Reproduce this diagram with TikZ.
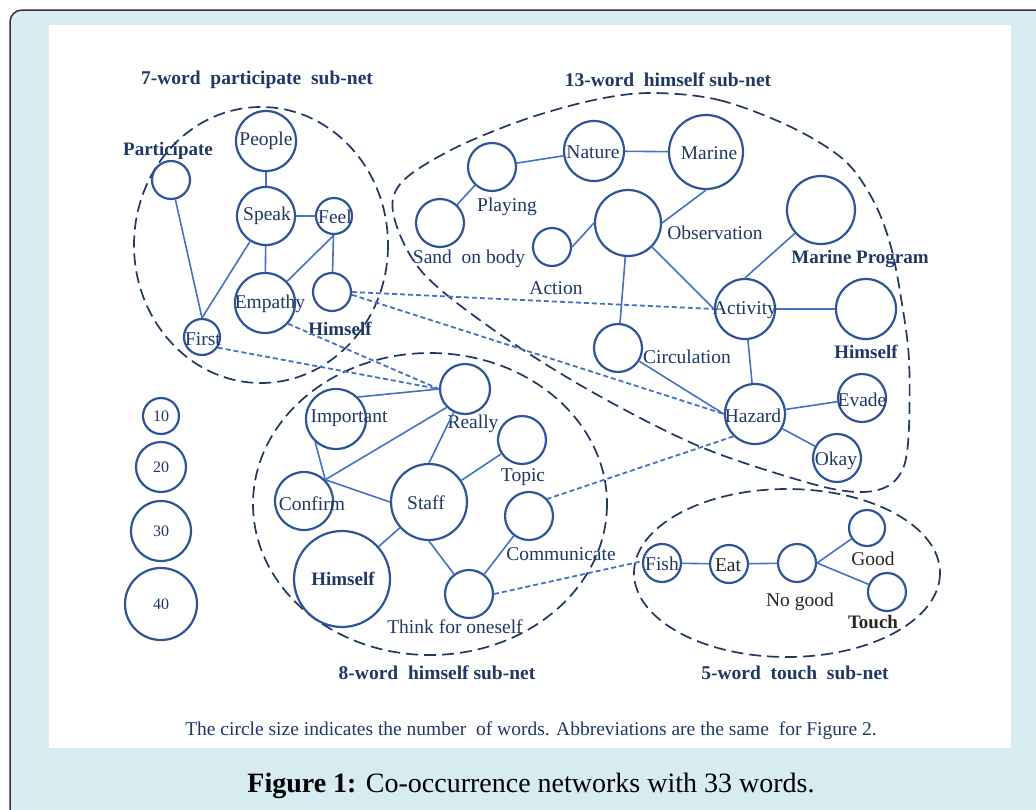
\documentclass[tikz,border=0pt]{standalone}
\usepackage{fontspec}
\setmainfont{Liberation Serif}
\definecolor{navy}{RGB}{31,56,100}
\definecolor{circc}{RGB}{47,85,151}
\definecolor{edgec}{RGB}{68,114,196}
\definecolor{bgblue}{RGB}{214,236,241}
\tikzset{
  wc/.style={circle, draw=circc, line width=2.2pt, inner sep=0pt, minimum size=#1pt},
  lab/.style={text=navy, font=\fontsize{19.5}{21}\selectfont, inner sep=0pt},
  blab/.style={text=navy, font=\fontsize{19}{21}\selectfont\bfseries, inner sep=0pt},
  klab/.style={text=black!85, font=\fontsize{19.5}{21}\selectfont, inner sep=0pt},
  ttl/.style={text=navy, font=\fontsize{19.5}{21}\selectfont\bfseries, inner sep=0pt},
  leg/.style={text=navy, font=\fontsize{16}{18}\selectfont, inner sep=0pt},
  link/.style={draw=edgec, line width=1.6pt},
  dlink/.style={draw=edgec, line width=1.8pt, dash pattern=on 5pt off 3pt},
  grp/.style={draw=navy, line width=1.7pt, dash pattern=on 12pt off 6pt},
}
\begin{document}
\begin{tikzpicture}[x=1pt,y=-1pt]
\useasboundingbox (0,0) rectangle (1036,809);
\clip (0,0) rectangle (1036,809);
\fill[white] (0,0) rectangle (1036,809);
\draw[fill=bgblue, draw=black!80, line width=1.5pt, rounded corners=12pt] (10,10) rectangle (1060,840);
\fill[white] (49,25) rectangle (1011,748);

% ---------- group outlines ----------
\draw[grp] (261,245) ellipse [x radius=127, y radius=138];
\draw[grp] (430,504) ellipse [x radius=177, y radius=151];
\draw[grp] (787,573) ellipse [x radius=153, y radius=84];
\draw[grp] plot[smooth cycle, tension=0.55] coordinates {
  (651,93) (719,100) (791,127) (844,160) (873,200) (891,247) (903,310)
  (909,360) (909,427) (904,466) (888,486) (858,492) (809,483) (701,447)
  (594,393) (498,333) (423,273) (394,217) (401,183) (451,150) (523,120) (594,100)};

% ---------- titles ----------
\node[ttl] (t1) at (257,80) {7-word\ \ participate\ \ sub-net};
\node[ttl] (t2) at (668,80) {13-word\ \ himself sub-net};
\node[ttl] (t3) at (437,673) {8-word\ \ himself sub-net};
\node[ttl] (t4) at (795,673) {5-word\ \ touch\ \ sub-net};

% ---------- 7-word sub-net ----------
\node[wc=38] (part) at (171,180) {};
\node[wc=60] (people) at (266,141) {};
\node[wc=58] (speak) at (266,216) {};
\node[wc=36] (feel) at (334,216) {};
\node[wc=60] (emp) at (265,303) {};
\node[wc=38] (himA) at (332,292) {};
\node[wc=36] (first) at (202,337) {};
\node[blab] (partL) at (168,151) {Participate};
\node[lab] (peopleL) at (266,141) {People};
\node[lab] (speakL) at (267,216) {Speak};
\node[lab] (feelL) at (335,217) {Feel};
\node[lab] (empL) at (270,304) {Empathy};
\node[blab] (himAL) at (340,329) {Himself};
\node[lab] (firstL) at (203,339) {First};

% ---------- 13-word sub-net ----------
\node[wc=48] (play) at (492,167) {};
\node[wc=60] (nature) at (594,151) {};
\node[wc=74] (marine) at (706,152) {};
\node[wc=48] (sand) at (440,223) {};
\node[wc=38] (action) at (552,247) {};
\node[wc=66] (obs) at (628,223) {};
\node[wc=68] (mprog) at (821,210) {};
\node[wc=60] (act) at (745,309) {};
\node[wc=60] (himB) at (866,309) {};
\node[wc=48] (circ) at (618,348) {};
\node[wc=60] (haz) at (755,414) {};
\node[wc=48] (evade) at (862,398) {};
\node[wc=48] (okay) at (837,458) {};
\node[lab] (playL) at (507,207) {Playing};
\node[lab] (natureL) at (593,152) {Nature};
\node[lab] (marineL) at (709,153) {Marine};
\node[lab] (sandL) at (469,259) {Sand\ \ on body};
\node[lab] (actionL) at (556,288) {Action};
\node[lab] (obsL) at (715,233) {Observation};
\node[blab] (mprogL) at (860,259) {Marine Program};
\node[lab] (actL) at (745,310) {Activity};
\node[blab] (himBL) at (866,352) {Himself};
\node[lab] (circL) at (687,357) {Circulation};
\node[lab] (hazL) at (753,416) {Hazard};
\node[lab] (evadeL) at (862,400) {Evade};
\node[lab] (okayL) at (836,461) {Okay};

% ---------- 8-word sub-net ----------
\node[wc=50] (really) at (465,389) {};
\node[wc=60] (imp) at (336,419) {};
\node[wc=48] (topic) at (522,440) {};
\node[wc=58] (conf) at (304,501) {};
\node[wc=76] (staff) at (429,502) {};
\node[wc=48] (comm) at (529,516) {};
\node[wc=96] (himC) at (342,579) {};
\node[wc=48] (think) at (469,594) {};
\node[lab] (reallyL) at (473,424) {Really};
\node[lab] (impL) at (349,418) {Important};
\node[lab] (topicL) at (523,477) {Topic};
\node[lab] (confL) at (312,504) {Confirm};
\node[lab] (staffL) at (426,503) {Staff};
\node[lab] (commL) at (561,554) {Communicate};
\node[blab] (himCL) at (343,579) {Himself};
\node[lab] (thinkL) at (455,627) {Think for oneself};

% ---------- 5-word sub-net ----------
\node[wc=38] (fish) at (662,563) {};
\node[wc=38] (eat) at (729,564) {};
\node[wc=38] (nogood) at (797,563) {};
\node[wc=36] (good) at (867,528) {};
\node[wc=38] (touch) at (887,592) {};
\node[lab] (fishL) at (662,564) {Fish};
\node[klab] (eatL) at (728,565) {Eat};
\node[klab] (nogoodL) at (800,602) {No good};
\node[klab] (goodL) at (873,559) {Good};
\node[klab, font=\fontsize{19}{21}\selectfont\bfseries] (touchL) at (873,622) {Touch};

% ---------- legend ----------
\node[wc=36] (l10) at (161,416) {};
\node[wc=50] (l20) at (161,467) {};
\node[wc=60] (l30) at (161,531) {};
\node[wc=72] (l40) at (161,604) {};
\node[leg] at (l10) {10};
\node[leg] at (l20) {20};
\node[leg] at (l30) {30};
\node[leg] at (l40) {40};

% ---------- solid links ----------
\draw[link] (part) -- (first.north);
\draw[link] (speak) -- (first.north);
\draw[link] (people) -- (speak);
\draw[link] (speak) -- (feel);
\draw[link] (speak) -- (emp);
\draw[link] (feel.south) -- (emp);
\draw[link] (feel) -- (himA);

\draw[link] (play) -- (sand);
\draw[link] (play) -- (nature);
\draw[link] (nature) -- (marine);
\draw[link] (marine.south) -- (obs.east);
\draw[link] (action.east) -- (obs.west);
\draw[link] (obs) -- (circ);
\draw[link] (obs) -- (act.west);
\draw[link] (mprog) -- (act.north);
\draw[link] (act) -- (himB);
\draw[link] (act) -- (haz);
\draw[link] (circ) -- (haz.west);
\draw[link] (haz) -- (evade);
\draw[link] (haz) -- (okay);

\draw[link] (imp.45) -- (really.west);
\draw[link] (imp.228) -- (conf.45);
\draw[link] (conf.45) -- (really.225);
\draw[link] (conf.45) -- (staff.west);
\draw[link] (really) -- (staff.north);
\draw[link] (staff) -- (topic);
\draw[link] (staff) -- (himC);
\draw[link] (staff.south) -- (think);
\draw[link] (think) -- (comm);

\draw[link] (fish) -- (eat);
\draw[link] (eat) -- (nogood);
\draw[link] (nogood.east) -- (good);
\draw[link] (nogood.east) -- (touch);

% ---------- dashed links ----------
\draw[dlink] (himA.east) -- (act.west);
\draw[dlink] (himA.-8) -- (haz.west);
\draw[dlink] (emp.-42) -- (really.west);
\draw[dlink] (first.-34) -- (really.west);
\draw[dlink] (haz.226) -- (comm.43);
\draw[dlink] (think.east) -- (fish.175);

% ---------- captions ----------
\node[text=navy, font=\fontsize{19.5}{21}\selectfont, inner sep=0pt] (cap1) at (531,731)
  {The circle size indicates the number\ \ of words. Abbreviations are the same\ \ for Figure 2.};
\node[text=black, font=\fontsize{28}{30}\selectfont, inner sep=0pt] (cap2) at (531,786)
  {\textbf{Figure 1:} Co-occurrence networks with 33 words.};
\end{tikzpicture}
\end{document}
